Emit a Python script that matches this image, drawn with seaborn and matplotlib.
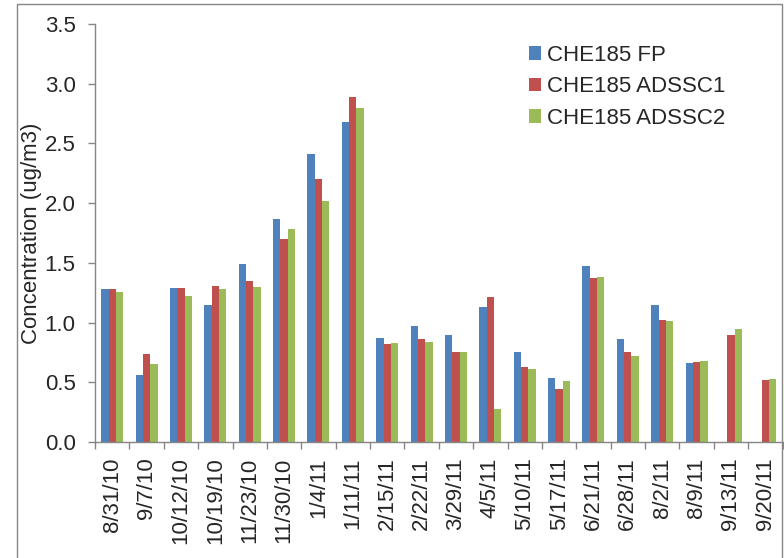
import numpy as np
import pandas as pd
import matplotlib
matplotlib.use("Agg")
import matplotlib.pyplot as plt
from matplotlib.patches import Rectangle
from matplotlib.ticker import FixedLocator
import seaborn as sns

dates = ["8/31/10", "9/7/10", "10/12/10", "10/19/10", "11/23/10", "11/30/10",
         "1/4/11", "1/11/11", "2/15/11", "2/22/11", "3/29/11", "4/5/11",
         "5/10/11", "5/17/11", "6/21/11", "6/28/11", "8/2/11", "8/9/11",
         "9/13/11", "9/20/11"]
fp = [1.28, 0.56, 1.29, 1.15, 1.49, 1.87, 2.41, 2.68, 0.87, 0.97,
      0.90, 1.13, 0.75, 0.54, 1.47, 0.86, 1.15, 0.66, np.nan, np.nan]
adssc1 = [1.28, 0.74, 1.29, 1.31, 1.35, 1.70, 2.20, 2.89, 0.82, 0.86,
          0.75, 1.21, 0.63, 0.44, 1.37, 0.75, 1.02, 0.67, 0.90, 0.52]
adssc2 = [1.26, 0.65, 1.22, 1.28, 1.30, 1.78, 2.02, 2.80, 0.83, 0.84,
          0.75, 0.28, 0.61, 0.51, 1.38, 0.72, 1.01, 0.68, 0.95, 0.53]
series = ["CHE185 FP", "CHE185 ADSSC1", "CHE185 ADSSC2"]
colors = ["#4F81BD", "#C0504D", "#9BBB59"]

df = pd.DataFrame({
    "date": dates * 3,
    "series": np.repeat(series, len(dates)),
    "value": fp + adssc1 + adssc2,
})

sns.set_style("white")
plt.rcParams["font.family"] = ["Liberation Sans", "DejaVu Sans"]

fig = plt.figure(figsize=(7.84, 5.58), dpi=100)
ax = fig.add_axes([95 / 784, 1 - 442 / 558, 687.5 / 784, 418 / 558])

sns.barplot(data=df, x="date", y="value", hue="series", order=dates,
            hue_order=series, palette=colors, width=0.64, linewidth=0,
            saturation=1, ax=ax)

axis_gray = "#868686"
ax.set_ylim(0, 3.5)
ax.set_xlim(-0.5, len(dates) - 0.5)
ax.set_yticks(np.arange(0, 3.51, 0.5))
ax.set_yticklabels([f"{v:.1f}" for v in np.arange(0, 3.51, 0.5)])
ax.set_xticks(range(len(dates)))
ax.set_xticklabels(dates, rotation=90)
ax.xaxis.set_minor_locator(FixedLocator(np.arange(-0.5, len(dates), 1.0)))

ax.tick_params(axis="y", which="major", direction="out", length=5, width=1,
               color=axis_gray, labelsize=16, pad=9, left=True)
ax.tick_params(axis="x", which="major", length=0, labelsize=16, pad=11)
ax.tick_params(axis="x", which="minor", direction="out", length=5, width=1,
               color=axis_gray, bottom=True)

for side in ["top", "right"]:
    ax.spines[side].set_visible(False)
for side in ["left", "bottom"]:
    ax.spines[side].set_color(axis_gray)
    ax.spines[side].set_linewidth(1)

ax.set_xlabel("")
ax.set_ylabel("Concentration (ug/m3)", fontsize=16)
ax.yaxis.set_label_coords(-0.077, 0.5)

handles, labels = ax.get_legend_handles_labels()
ax.legend(handles, labels, loc="upper left", frameon=False,
          bbox_to_anchor=(529 / 784, 1 - 45 / 558), bbox_transform=fig.transFigure,
          fontsize=16, handlelength=0.55, handleheight=0.55, handletextpad=0.25,
          labelspacing=0.47, borderpad=0, borderaxespad=0)

fig.patches.append(Rectangle((16.5 / 784, -0.1), (782 - 16.5) / 784, 1.1 - 4 / 558,
                             transform=fig.transFigure, fill=False,
                             edgecolor=axis_gray, linewidth=1))

fig.savefig("out.png", dpi=100)
